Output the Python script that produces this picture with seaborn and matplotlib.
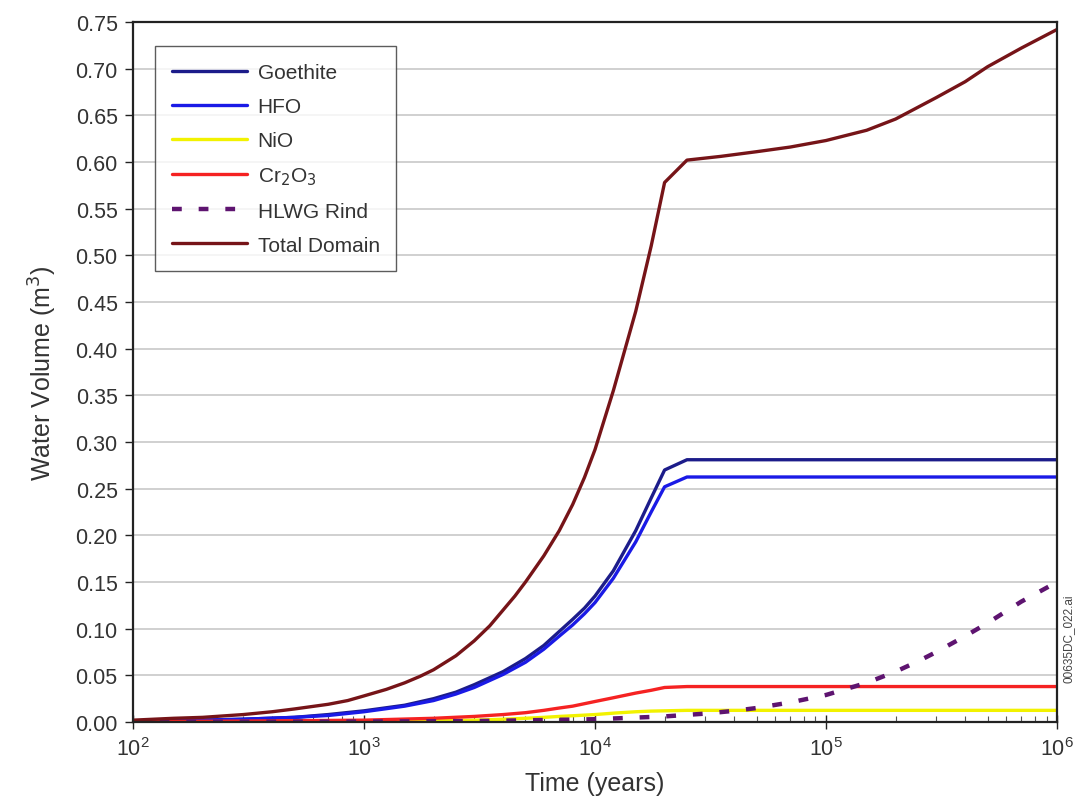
import numpy as np
import pandas as pd
import matplotlib
matplotlib.use("Agg")
import matplotlib.pyplot as plt
from matplotlib.ticker import LogLocator, NullFormatter, MultipleLocator, FormatStrFormatter
import seaborn as sns

# =====================
# DATA
# =====================
t_total = [100, 150, 200, 300, 400, 500, 700, 850, 1000, 1250, 1500, 1750, 2000, 2500,
           3000, 3500, 4000, 4500, 5000, 6000, 7000, 8000, 9000, 10000, 12000, 15000,
           17500, 20000, 25000, 35000, 50000, 70000, 100000, 150000, 200000, 300000,
           400000, 500000, 700000, 1000000]
total_domain = [0.002, 0.004, 0.005, 0.008, 0.011, 0.014, 0.019, 0.023, 0.028, 0.035,
                0.042, 0.049, 0.056, 0.071, 0.087, 0.103, 0.120, 0.135, 0.150, 0.178,
                0.205, 0.233, 0.262, 0.292, 0.355, 0.440, 0.510, 0.578, 0.602, 0.606,
                0.611, 0.616, 0.623, 0.634, 0.646, 0.669, 0.686, 0.702, 0.722, 0.742]

t_fe = [100, 200, 300, 500, 700, 1000, 1500, 2000, 2500, 3000, 4000, 5000, 6000, 7000,
        8000, 9000, 10000, 12000, 15000, 17500, 20000, 25000, 1000000]
goethite = [0.001, 0.002, 0.003, 0.005, 0.008, 0.012, 0.018, 0.025, 0.032, 0.040, 0.054,
            0.068, 0.082, 0.097, 0.110, 0.122, 0.135, 0.162, 0.205, 0.240, 0.270, 0.281,
            0.281]
hfo = [0.001, 0.002, 0.003, 0.005, 0.007, 0.011, 0.017, 0.023, 0.030, 0.037, 0.051,
       0.064, 0.078, 0.092, 0.104, 0.116, 0.128, 0.154, 0.193, 0.225, 0.252, 0.2625,
       0.2625]

t_ox = [100, 300, 1000, 2000, 3000, 4000, 5000, 6000, 7000, 8000, 10000, 12000, 15000,
        17500, 20000, 25000, 1000000]
cr2o3 = [0.0005, 0.001, 0.002, 0.004, 0.006, 0.008, 0.010, 0.0125, 0.015, 0.017, 0.022,
         0.026, 0.031, 0.034, 0.037, 0.038, 0.038]
nio = [0.0002, 0.0004, 0.0008, 0.0015, 0.002, 0.003, 0.004, 0.005, 0.006, 0.0067, 0.008,
       0.0095, 0.011, 0.0117, 0.012, 0.0125, 0.0125]

t_rind = [100, 1000, 3000, 10000, 20000, 30000, 40000, 50000, 70000, 100000, 150000,
          200000, 250000, 300000, 400000, 500000, 700000, 1000000]
hlwg_rind = [0.0, 0.0005, 0.001, 0.003, 0.006, 0.009, 0.012, 0.015, 0.021, 0.029, 0.042,
             0.054, 0.065, 0.075, 0.092, 0.106, 0.129, 0.150]

series = [
    ("Goethite", t_fe, goethite, "#1c1c8a", "-"),
    ("HFO", t_fe, hfo, "#1a1ae6", "-"),
    ("NiO", t_ox, nio, "#f2f200", "-"),
    ("Cr$_2$O$_3$", t_ox, cr2o3, "#f52222", "-"),
    ("HLWG Rind", t_rind, hlwg_rind, "#5e1470", (0, (2.2, 3.8))),
    ("Total Domain", t_total, total_domain, "#761418", "-"),
]

# =====================
# PLOT
# =====================
sns.set_style("white")
plt.rcParams['font.family'] = ['Liberation Sans', 'DejaVu Sans']

fig = plt.figure(figsize=(10.77, 8.03), dpi=100)
ax = fig.add_axes([0.1235, 0.0996, 0.858, 0.8718])

for name, t, v, col, ls in series:
    lw = 3.2 if name == "HLWG Rind" else 2.4
    sns.lineplot(x=t, y=v, ax=ax, color=col, linestyle=ls, linewidth=lw, label=name,
                 estimator=None, sort=False)

ax.set_xscale('log')
ax.set_xlim(100, 1e6)
ax.set_ylim(0, 0.75)
ax.yaxis.set_major_locator(MultipleLocator(0.05))
ax.yaxis.set_major_formatter(FormatStrFormatter('%.2f'))
ax.xaxis.set_major_locator(LogLocator(base=10))
ax.xaxis.set_minor_locator(LogLocator(base=10, subs=np.arange(2, 10)))
ax.xaxis.set_minor_formatter(NullFormatter())

ax.grid(axis='y', color='#c8c8c8', linewidth=1.2, linestyle='-')
ax.set_axisbelow(True)

for s in ax.spines.values():
    s.set_color('#222222')
    s.set_linewidth(1.6)

ax.tick_params(axis='y', which='major', direction='out', length=6, width=1, labelsize=15.5,
               left=True, colors='#222222', labelcolor='#333333', pad=5)
ax.tick_params(axis='x', which='major', direction='inout', length=10, width=1, labelsize=15.5,
               bottom=True, colors='#222222', labelcolor='#333333', pad=6)
ax.tick_params(axis='x', which='minor', direction='in', length=4, width=0.8, bottom=True,
               colors='#555555')

ax.set_xlabel('Time (years)', fontsize=18, color='#333333', labelpad=8)
ax.set_ylabel('Water Volume (m$^3$)', fontsize=18, color='#333333', labelpad=12)

leg = ax.legend(loc='upper left', bbox_to_anchor=(0.013, 0.98), fontsize=15,
                frameon=True, fancybox=False, handlelength=3.6, labelspacing=0.72,
                borderpad=0.8, handletextpad=0.5)
leg.get_frame().set_edgecolor('#333333')
leg.get_frame().set_linewidth(1.0)
for txt in leg.get_texts():
    txt.set_color('#333333')

fig.text(0.992, 0.205, '00635DC_022.ai', rotation=90, fontsize=8.5, color='#444444',
         ha='center', va='center')

plt.savefig('out.png', dpi=100)
